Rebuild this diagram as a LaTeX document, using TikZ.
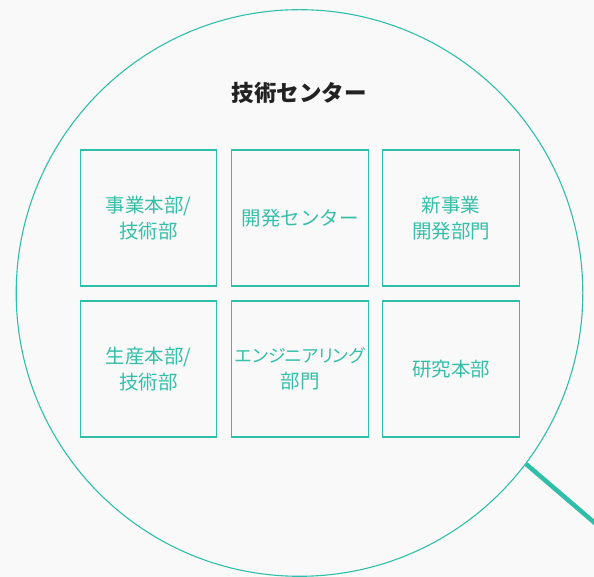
\documentclass[tikz,border=0pt]{standalone}
\usepackage{fontspec}
\setmainfont{Noto Sans CJK JP}
\definecolor{teal1}{HTML}{2FBFA8}
\definecolor{tealtext}{HTML}{35BFA9}
\definecolor{bgc}{HTML}{F9F9F9}
\definecolor{titlec}{HTML}{222222}
\tikzset{
  unitbox/.style={draw=teal1, line width=1.1pt, minimum width=136.5pt, minimum height=136pt, inner sep=0pt, align=center, text=tealtext, font=\fontsize{19.5}{26}\selectfont},
  titletext/.style={text=titlec, font=\fontsize{22.5}{26}\selectfont\bfseries},
  lens/.style={draw=teal1, line width=1.1pt},
  handle/.style={draw=teal1, line width=4.5pt}
}
\begin{document}
\begin{tikzpicture}[x=1pt,y=1pt]
\fill[bgc] (0,0) rectangle (594,577);
\useasboundingbox (0,0) rectangle (594,577);
\coordinate (c) at (299.5,284);
\draw[lens] (c) circle[radius=283.3];
\coordinate (h1) at (526,113);
\coordinate (h2) at (610,41);
\draw[handle] (h1) -- (h2);
\node[titletext] (title) at (299,484) {技術センター};
\node[unitbox] (b1) at (148.5,359) {事業本部/\\技術部};
\node[unitbox] (b2) at (300,359) {開発センター};
\node[unitbox] (b3) at (451,359) {新事業\\開発部門};
\node[unitbox] (b4) at (148.5,208) {生産本部/\\技術部};
\node[unitbox] (b5) at (300,208) {{\addfontfeatures{RawFeature=+palt}\fontsize{17.8}{26}\selectfont エンジニアリング}\\部門};
\node[unitbox] (b6) at (451,208) {研究本部};
\end{tikzpicture}
\end{document}
